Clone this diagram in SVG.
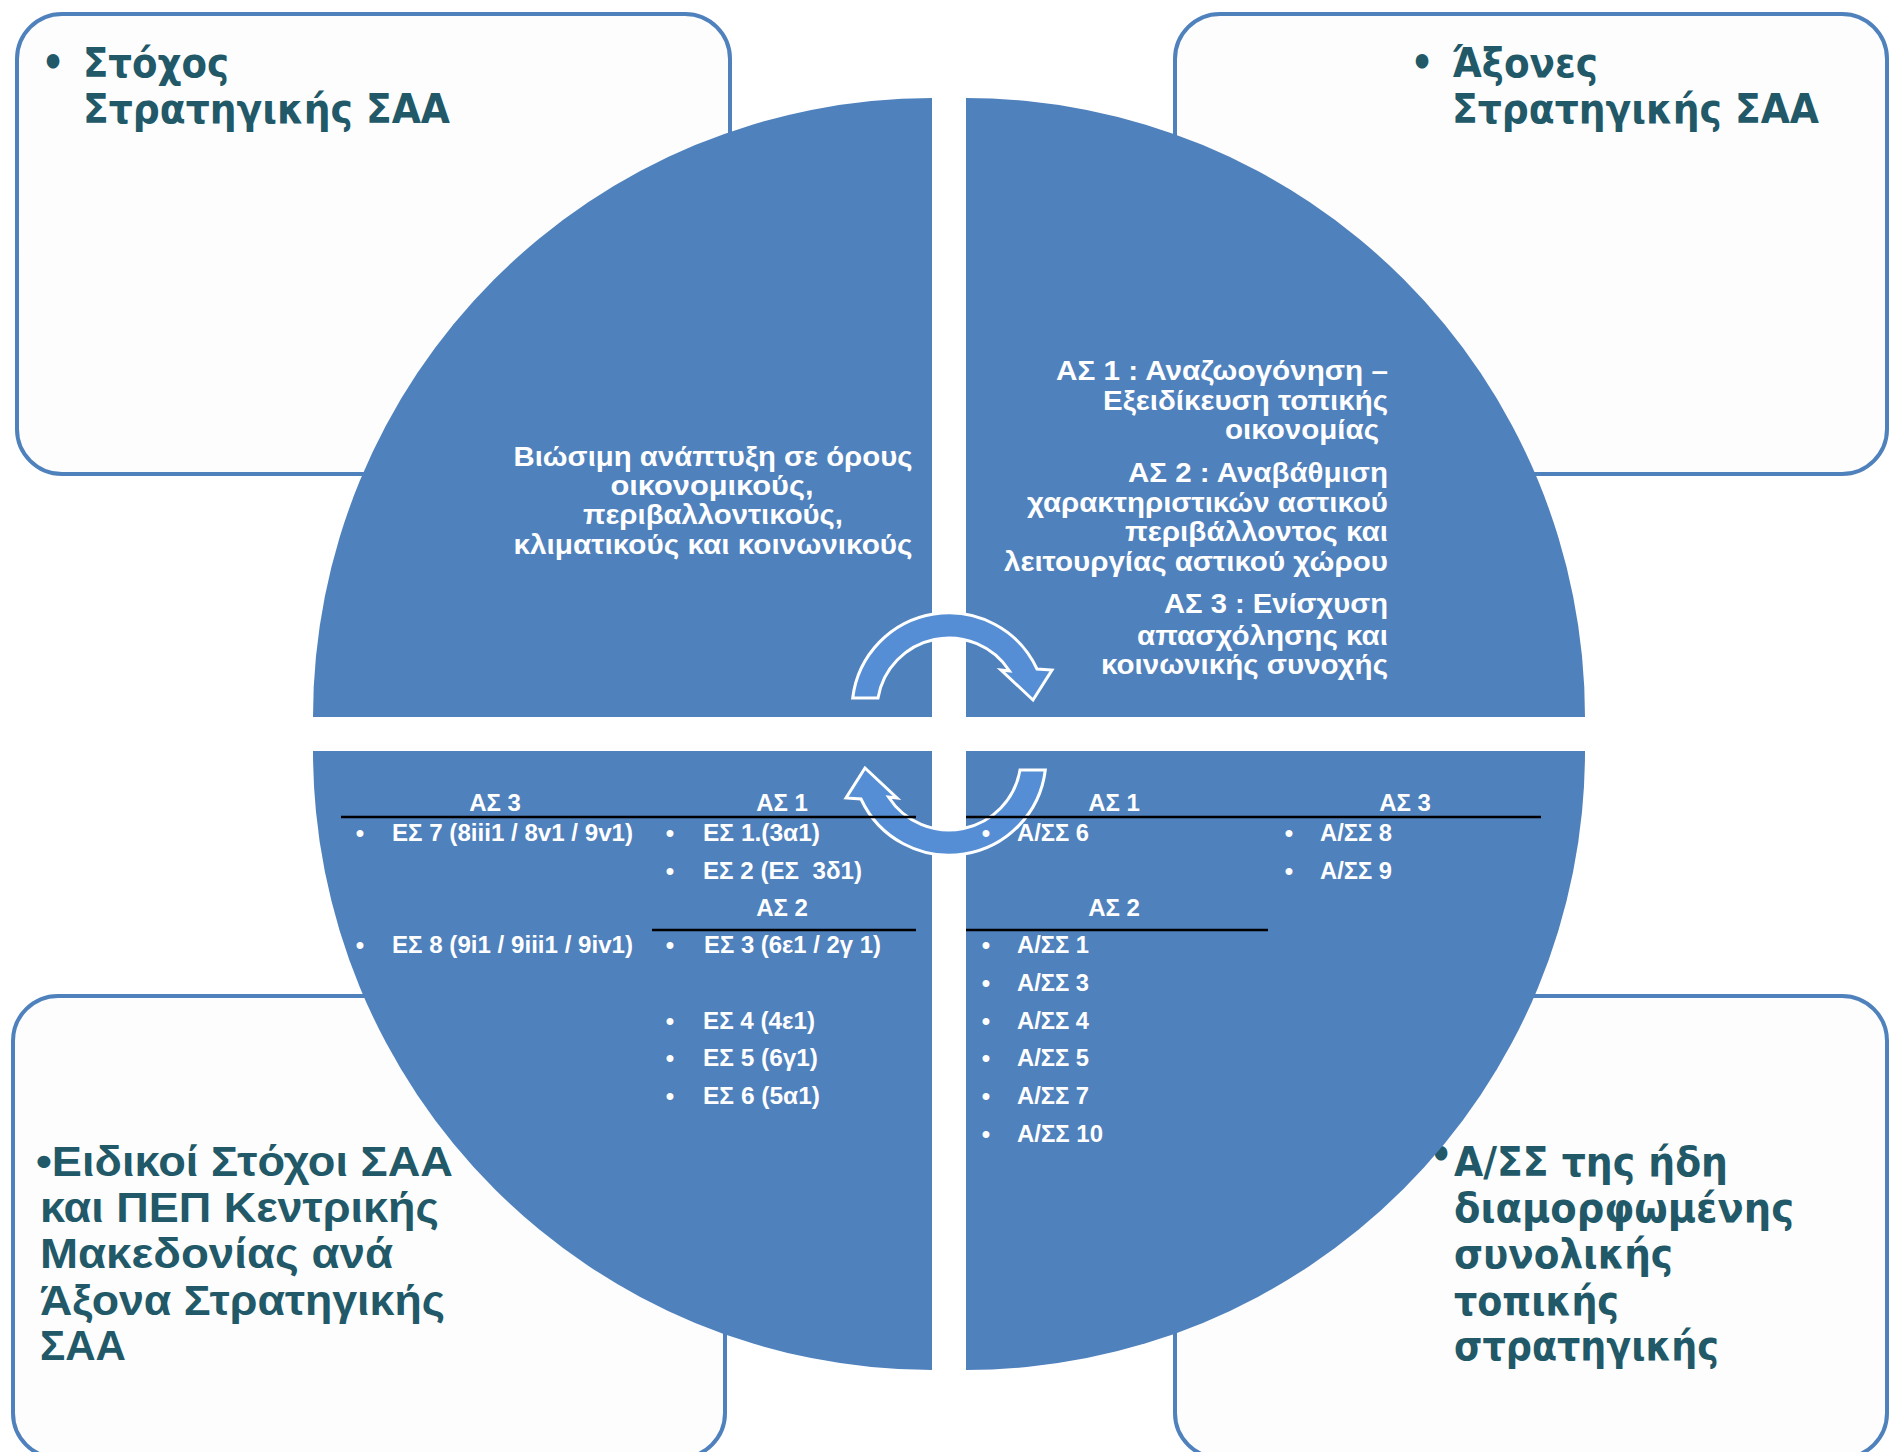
<svg xmlns="http://www.w3.org/2000/svg" width="1901" height="1452" viewBox="0 0 1901 1452">
<style>
.box{fill:#FDFDFD;stroke:#4F81BD;stroke-width:4}
.quad{fill:#4F81BD}
.arrow{fill:#558ED5;stroke:#FFFFFF;stroke-width:3;stroke-linejoin:miter}
.bt{font-family:"DejaVu Sans Condensed","DejaVu Sans",sans-serif;font-weight:bold;font-size:40px;fill:#215968}
.bl{font-family:"Liberation Sans",Arial,sans-serif;font-weight:bold;font-size:43px;fill:#215968}
.qt{font-family:"Liberation Sans",Arial,sans-serif;font-weight:bold;font-size:27.5px;fill:#FFFFFF}
.li{font-family:"Liberation Sans",Arial,sans-serif;font-weight:bold;font-size:24px;fill:#FFFFFF}
.hd{font-family:"Liberation Sans",Arial,sans-serif;font-weight:bold;font-size:24px;fill:#FFFFFF;text-anchor:middle}
.rule{stroke:#000000;stroke-width:2.5}
</style>
<defs>
<path id="cyc" d="M 852.7 698 A 97 97 0 0 1 1037 669 L 1052 670 L 1033 700 L 1001 670 L 1009.5 671 A 72 72 0 0 0 878 698 Z"/>
</defs>
<rect width="1901" height="1452" fill="#FFFFFF"/>

<g id="box-stoxos">
<rect class="box" x="17" y="14" width="713" height="460" rx="45"/>
<text class="bt" x="53" y="76" text-anchor="middle" font-size="34">•</text>
<text class="bt" x="83" y="77" textLength="146" lengthAdjust="spacingAndGlyphs">Στόχος</text>
<text class="bt" x="83" y="123" textLength="367" lengthAdjust="spacingAndGlyphs">Στρατηγικής ΣΑΑ</text>
</g>

<g id="box-axones">
<rect class="box" x="1175" y="14" width="712" height="460" rx="45"/>
<text class="bt" x="1422" y="76" text-anchor="middle" font-size="34">•</text>
<text class="bt" x="1452" y="77" textLength="146" lengthAdjust="spacingAndGlyphs">Άξονες</text>
<text class="bt" x="1452" y="123" textLength="367" lengthAdjust="spacingAndGlyphs">Στρατηγικής ΣΑΑ</text>
</g>

<g id="box-eidikoi">
<rect class="box" x="13" y="996" width="712" height="462" rx="45"/>
<text class="bl" x="36" y="1176" textLength="417" lengthAdjust="spacingAndGlyphs">•Ειδικοί Στόχοι ΣΑΑ</text>
<text class="bl" x="40" y="1222" textLength="399" lengthAdjust="spacingAndGlyphs">και ΠΕΠ Κεντρικής</text>
<text class="bl" x="40" y="1268" textLength="353" lengthAdjust="spacingAndGlyphs">Μακεδονίας ανά</text>
<text class="bl" x="40" y="1315" textLength="405" lengthAdjust="spacingAndGlyphs">Άξονα Στρατηγικής</text>
<text class="bl" x="40" y="1360" textLength="86" lengthAdjust="spacingAndGlyphs">ΣΑΑ</text>
</g>

<g id="box-ass">
<rect class="box" x="1175" y="996" width="712" height="462" rx="45"/>
<text class="bt" x="1441" y="1168" text-anchor="middle" font-size="20">•</text>
<text class="bt" x="1454" y="1176" textLength="274" lengthAdjust="spacingAndGlyphs">Α/ΣΣ της ήδη</text>
<text class="bt" x="1454" y="1222" textLength="340" lengthAdjust="spacingAndGlyphs">διαμορφωμένης</text>
<text class="bt" x="1454" y="1268" textLength="219" lengthAdjust="spacingAndGlyphs">συνολικής</text>
<text class="bt" x="1454" y="1315" textLength="165" lengthAdjust="spacingAndGlyphs">τοπικής</text>
<text class="bt" x="1454" y="1360" textLength="265" lengthAdjust="spacingAndGlyphs">στρατηγικής</text>
</g>

<g id="quad-tl"><path class="quad" d="M 932 717 L 313 717 A 619 619 0 0 1 932 98 Z"/></g>
<g id="quad-tr"><path class="quad" d="M 966 717 L 966 98 A 619 619 0 0 1 1585 717 Z"/></g>
<g id="quad-bl"><path class="quad" d="M 932 751 L 932 1370 A 619 619 0 0 1 313 751 Z"/></g>
<g id="quad-br"><path class="quad" d="M 966 751 L 1585 751 A 619 619 0 0 1 966 1370 Z"/></g>

<g id="connectors">
<use href="#cyc" class="arrow"/>
<use href="#cyc" class="arrow" transform="rotate(180 949 734)"/>
</g>

<g id="goal-text">
<text class="qt" x="713" y="466" text-anchor="middle" textLength="399" lengthAdjust="spacingAndGlyphs">Βιώσιμη ανάπτυξη σε όρους</text>
<text class="qt" x="712" y="495" text-anchor="middle" textLength="203" lengthAdjust="spacingAndGlyphs">οικονομικούς,</text>
<text class="qt" x="713" y="524" text-anchor="middle" textLength="260" lengthAdjust="spacingAndGlyphs">περιβαλλοντικούς,</text>
<text class="qt" x="713" y="554" text-anchor="middle" textLength="399" lengthAdjust="spacingAndGlyphs">κλιματικούς και κοινωνικούς</text>
</g>

<g id="axes-text">
<text class="qt" x="1388" y="380" text-anchor="end" textLength="332" lengthAdjust="spacingAndGlyphs">ΑΣ 1 : Αναζωογόνηση –</text>
<text class="qt" x="1388" y="410" text-anchor="end" textLength="285" lengthAdjust="spacingAndGlyphs">Εξειδίκευση τοπικής</text>
<text class="qt" x="1379" y="439" text-anchor="end" textLength="154" lengthAdjust="spacingAndGlyphs">οικονομίας</text>
<text class="qt" x="1388" y="482" text-anchor="end" textLength="260" lengthAdjust="spacingAndGlyphs">ΑΣ 2 : Αναβάθμιση</text>
<text class="qt" x="1388" y="512" text-anchor="end" textLength="361" lengthAdjust="spacingAndGlyphs">χαρακτηριστικών αστικού</text>
<text class="qt" x="1388" y="541" text-anchor="end" textLength="263" lengthAdjust="spacingAndGlyphs">περιβάλλοντος και</text>
<text class="qt" x="1388" y="571" text-anchor="end" textLength="384" lengthAdjust="spacingAndGlyphs">λειτουργίας αστικού χώρου</text>
<text class="qt" x="1388" y="613" text-anchor="end" textLength="224" lengthAdjust="spacingAndGlyphs">ΑΣ 3 : Ενίσχυση</text>
<text class="qt" x="1388" y="645" text-anchor="end" textLength="251" lengthAdjust="spacingAndGlyphs">απασχόλησης και</text>
<text class="qt" x="1388" y="674" text-anchor="end" textLength="287" lengthAdjust="spacingAndGlyphs">κοινωνικής συνοχής</text>
</g>

<g id="es-text">
<text class="hd" x="495" y="811">ΑΣ 3</text>
<text class="hd" x="782" y="811">ΑΣ 1</text>
<line class="rule" x1="341" y1="817" x2="916" y2="817"/>
<text class="hd" x="360" y="841">•</text>
<text class="li" x="392" y="841" textLength="241" lengthAdjust="spacingAndGlyphs">ΕΣ 7 (8iii1 / 8v1 / 9v1)</text>
<text class="hd" x="670" y="841">•</text>
<text class="li" x="703" y="841" textLength="117" lengthAdjust="spacingAndGlyphs">ΕΣ 1.(3α1)</text>
<text class="hd" x="670" y="879">•</text>
<text class="li" x="703" y="879" textLength="159" lengthAdjust="spacingAndGlyphs">ΕΣ 2 (ΕΣ&#160; 3δ1)</text>
<text class="hd" x="782" y="916">ΑΣ 2</text>
<line class="rule" x1="652" y1="930" x2="916" y2="930"/>
<text class="hd" x="360" y="953">•</text>
<text class="li" x="392" y="953" textLength="241" lengthAdjust="spacingAndGlyphs">ΕΣ 8 (9i1 / 9iii1 / 9iv1)</text>
<text class="hd" x="670" y="953">•</text>
<text class="li" x="704" y="953" textLength="177" lengthAdjust="spacingAndGlyphs">ΕΣ 3 (6ε1 / 2γ 1)</text>
<text class="hd" x="670" y="1029">•</text>
<text class="li" x="703" y="1029" textLength="112" lengthAdjust="spacingAndGlyphs">ΕΣ 4 (4ε1)</text>
<text class="hd" x="670" y="1066">•</text>
<text class="li" x="703" y="1066" textLength="115" lengthAdjust="spacingAndGlyphs">ΕΣ 5 (6γ1)</text>
<text class="hd" x="670" y="1104">•</text>
<text class="li" x="703" y="1104" textLength="117" lengthAdjust="spacingAndGlyphs">ΕΣ 6 (5α1)</text>
</g>

<g id="ass-text">
<text class="hd" x="1114" y="811">ΑΣ 1</text>
<text class="hd" x="1405" y="811">ΑΣ 3</text>
<line class="rule" x1="966" y1="817" x2="1541" y2="817"/>
<text class="hd" x="986" y="841">•</text>
<text class="li" x="1017" y="841" textLength="72" lengthAdjust="spacingAndGlyphs">Α/ΣΣ 6</text>
<text class="hd" x="1289" y="841">•</text>
<text class="li" x="1320" y="841" textLength="72" lengthAdjust="spacingAndGlyphs">Α/ΣΣ 8</text>
<text class="hd" x="1289" y="879">•</text>
<text class="li" x="1320" y="879" textLength="72" lengthAdjust="spacingAndGlyphs">Α/ΣΣ 9</text>
<text class="hd" x="1114" y="916">ΑΣ 2</text>
<line class="rule" x1="966" y1="930" x2="1268" y2="930"/>
<text class="hd" x="986" y="953">•</text>
<text class="li" x="1017" y="953" textLength="72" lengthAdjust="spacingAndGlyphs">Α/ΣΣ 1</text>
<text class="hd" x="986" y="991">•</text>
<text class="li" x="1017" y="991" textLength="72" lengthAdjust="spacingAndGlyphs">Α/ΣΣ 3</text>
<text class="hd" x="986" y="1029">•</text>
<text class="li" x="1017" y="1029" textLength="72" lengthAdjust="spacingAndGlyphs">Α/ΣΣ 4</text>
<text class="hd" x="986" y="1066">•</text>
<text class="li" x="1017" y="1066" textLength="72" lengthAdjust="spacingAndGlyphs">Α/ΣΣ 5</text>
<text class="hd" x="986" y="1104">•</text>
<text class="li" x="1017" y="1104" textLength="72" lengthAdjust="spacingAndGlyphs">Α/ΣΣ 7</text>
<text class="hd" x="986" y="1142">•</text>
<text class="li" x="1017" y="1142" textLength="86" lengthAdjust="spacingAndGlyphs">Α/ΣΣ 10</text>
</g>
</svg>
